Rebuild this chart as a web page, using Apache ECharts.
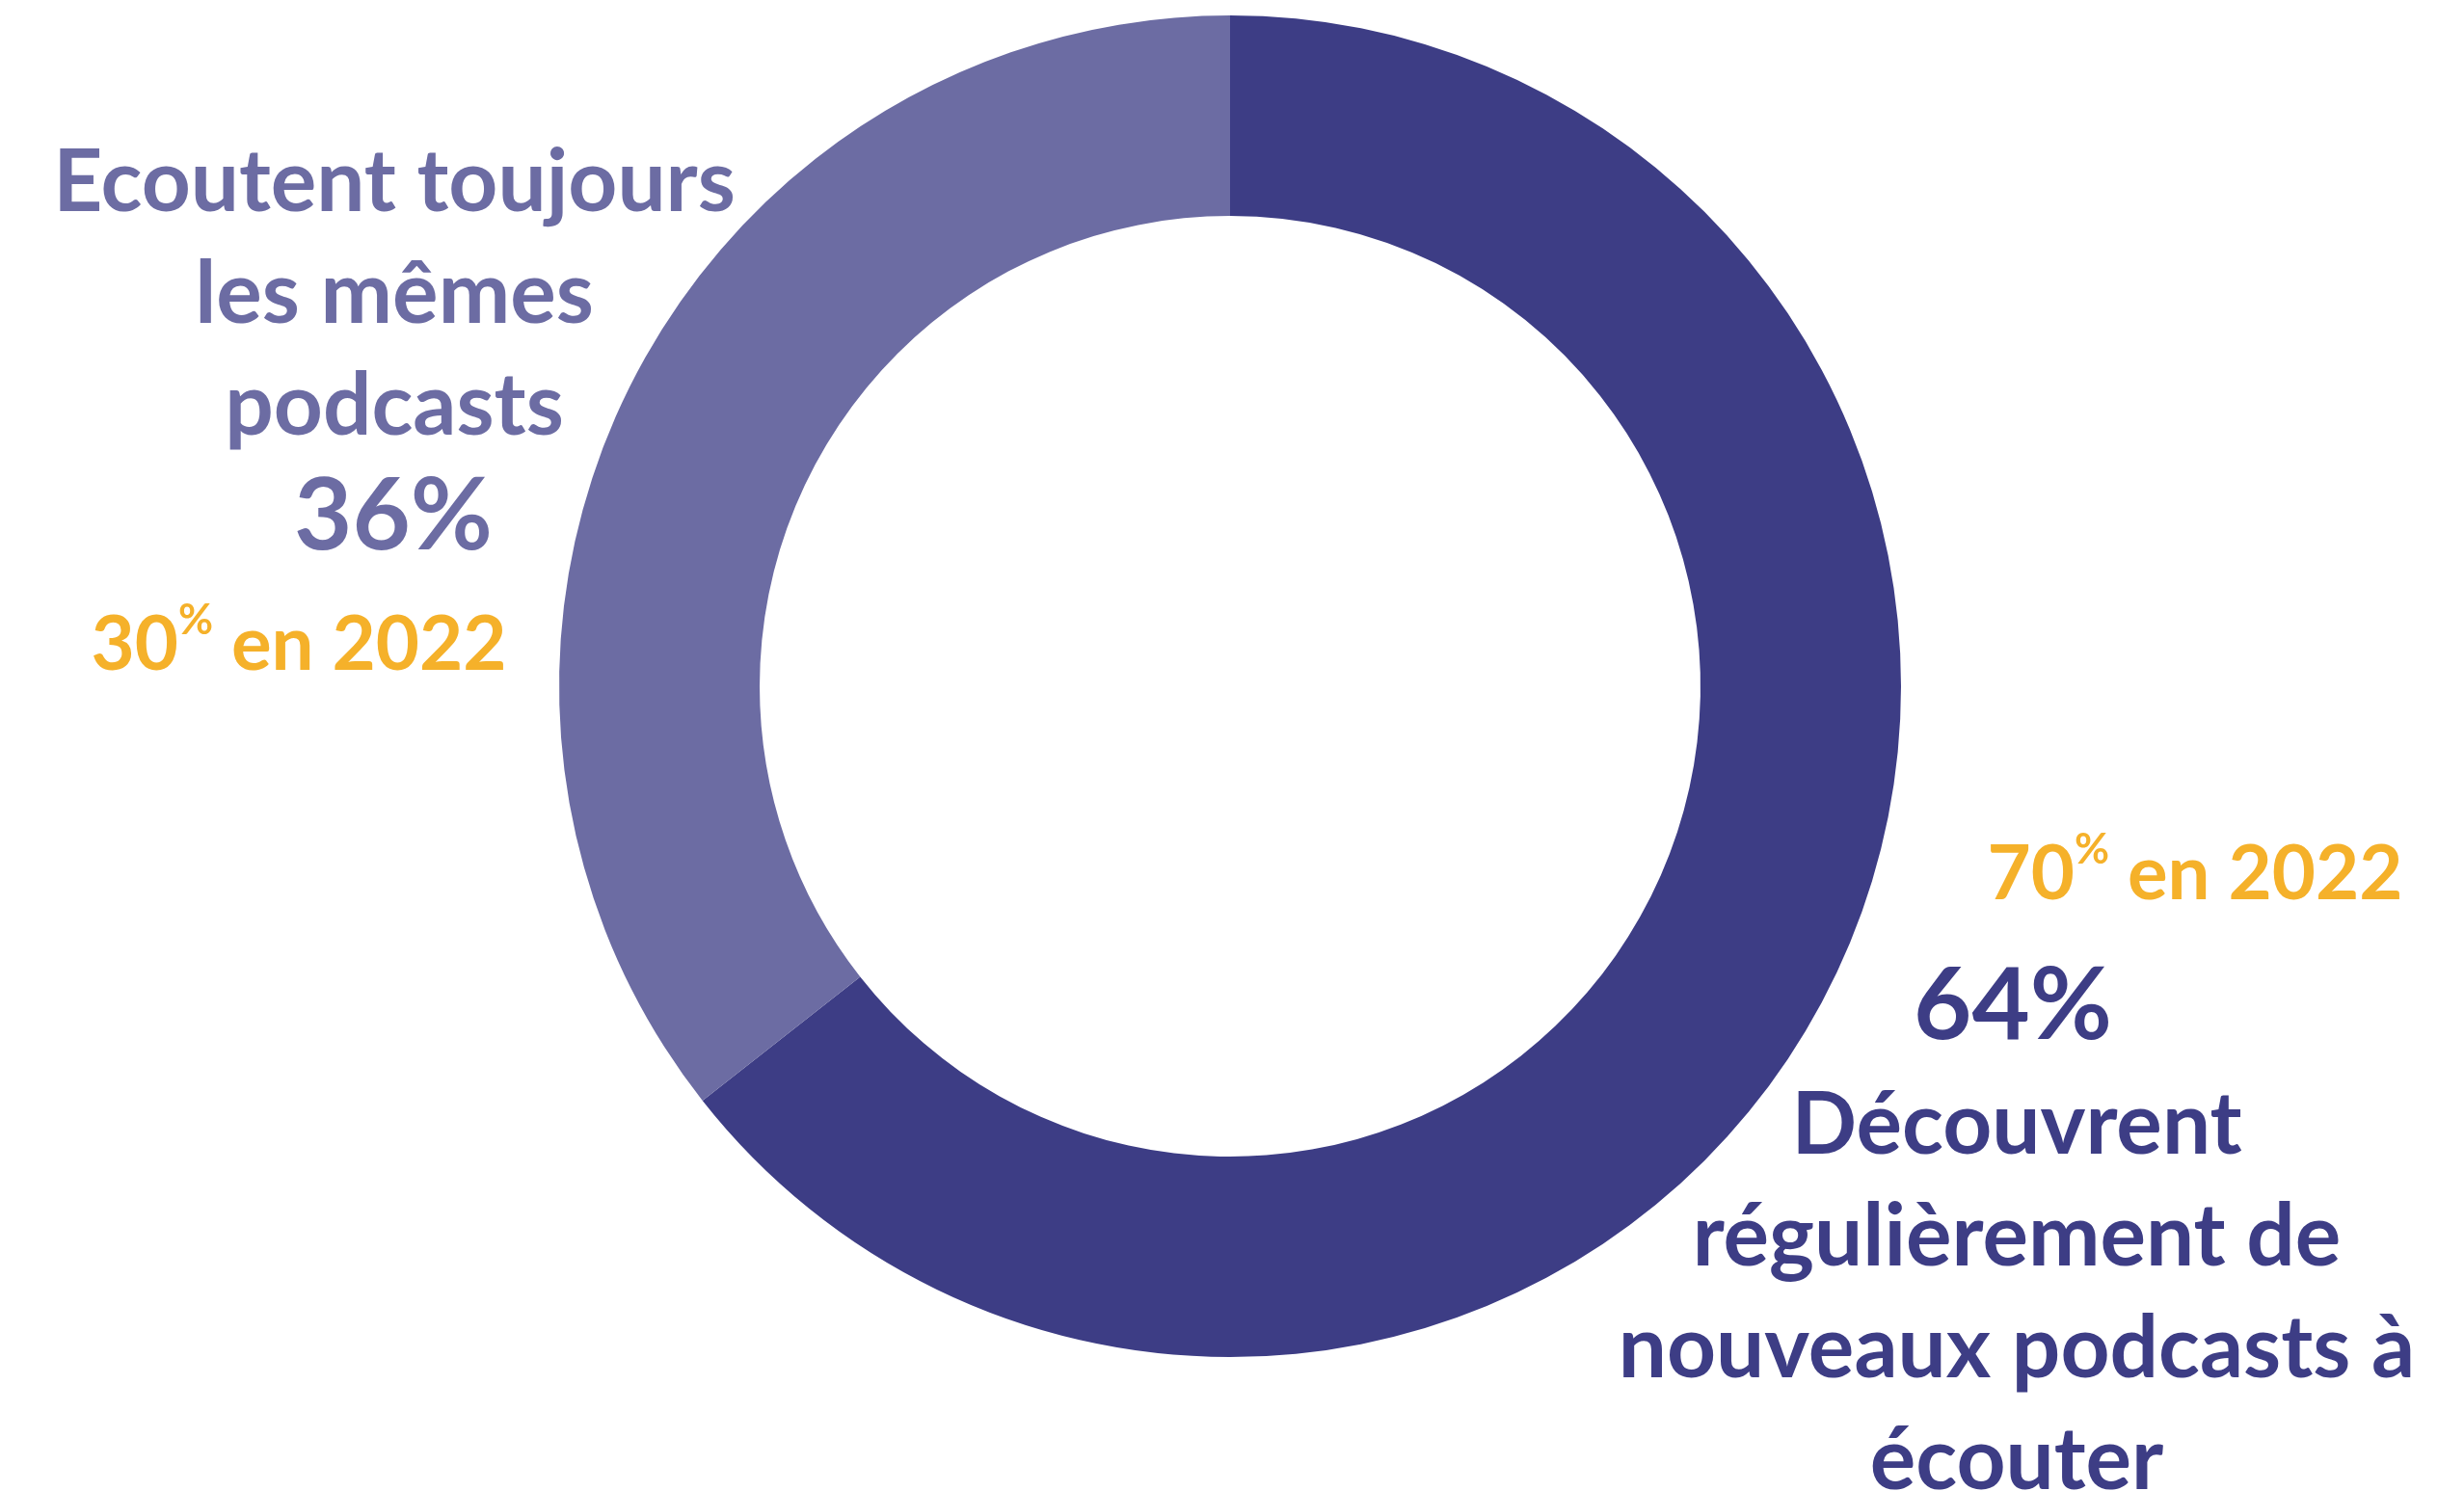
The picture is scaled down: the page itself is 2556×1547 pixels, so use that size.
<!DOCTYPE html>
<html>
<head>
<meta charset="utf-8">
<script src="https://cdn.jsdelivr.net/npm/echarts@6/dist/echarts.min.js"></script>
<style>
html, body { margin: 0; padding: 0; background: #fff; }
#container { width: 2556px; height: 1547px; }
</style>
</head>
<body>
<div id="container"></div>
<script>
var names = ['Découvrent\nrégulièrement de\nnouveaux podcasts à\nécouter', 'Ecoutent toujours\nles mêmes\npodcasts'];
var values = [64.4, 35.6];
var values2022 = [70, 30];
var refYear = '2022';

var colors = ['#3D3D85', '#6C6CA3'];
var gold = '#F5B12A';
var FONT = 'Lato';

var dom = document.getElementById('container');
var myChart = echarts.init(dom);

function oldLabel(i) {
	return '{n|' + values2022[i] + '}{s|%}{n| en ' + refYear + '}';
}

function goldRich() {
	return {
		n: { fontSize: 78, fontWeight: 'bold', fontFamily: FONT, fill: gold, lineHeight: 96 },
		s: { fontSize: 44, fontWeight: 'bold', fontFamily: FONT, fill: gold, verticalAlign: 'top', lineHeight: 50 }
	};
}

var option = {
	backgroundColor: '#fff',
	animation: false,
	series: [{
		type: 'pie',
		center: [1276, 712],
		radius: [488, 696],
		startAngle: 90,
		clockwise: true,
		silent: true,
		label: { show: false },
		labelLine: { show: false },
		itemStyle: { borderWidth: 0 },
		data: values.map(function(v, i) {
			return { value: v, name: names[i], itemStyle: { color: colors[i] } };
		})
	}],
	graphic: [
		// gauche
		{
			type: 'text', x: 409, y: 132,
			style: {
				text: names[1], fill: colors[1], font: 'bold 89px ' + FONT,
				lineHeight: 116, align: 'center', verticalAlign: 'top'
			}
		}, {
			type: 'text', x: 408, y: 484,
			style: {
				text: Math.round(values[1]) + '%', fill: colors[1], font: 'bold 104px ' + FONT,
				align: 'center', verticalAlign: 'top'
			}
		}, {
			type: 'text', x: 310, y: 622,
			style: {
				text: oldLabel(1), rich: goldRich(), align: 'center', verticalAlign: 'top'
			}
		},
		// droite
		{
			type: 'text', x: 2277, y: 860,
			style: {
				text: oldLabel(0), rich: goldRich(), align: 'center', verticalAlign: 'top'
			}
		}, {
			type: 'text', x: 2088, y: 992,
			style: {
				text: Math.round(values[0]) + '%', fill: colors[0], font: 'bold 104px ' + FONT,
				align: 'center', verticalAlign: 'top'
			}
		}, {
			type: 'text', x: 2092, y: 1110,
			style: {
				text: names[0], fill: colors[0], font: 'bold 89px ' + FONT,
				lineHeight: 116, align: 'center', verticalAlign: 'top'
			}
		}
	]
};

myChart.setOption(option);
</script>
</body>
</html>
